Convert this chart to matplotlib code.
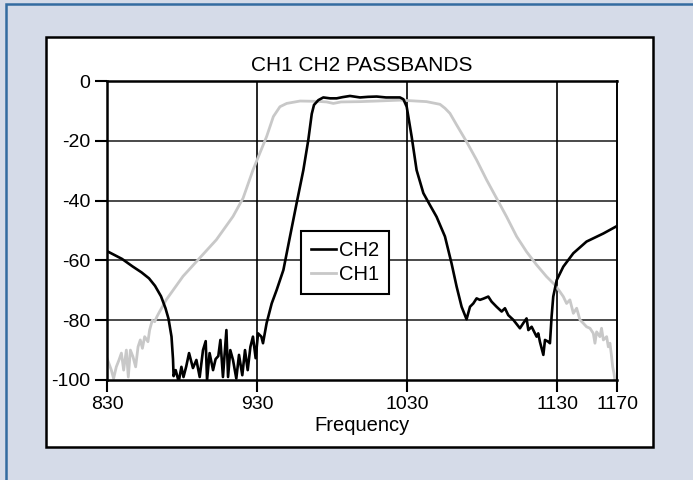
import matplotlib
matplotlib.use('Agg')
import matplotlib.pyplot as plt
from matplotlib.patches import Rectangle

plt.rcParams['font.family'] = ['Liberation Sans', 'DejaVu Sans']

# CH2 response (black)
ch2_freq = [830, 840, 847, 853, 858, 862, 866, 869, 871, 873, 874, 874.4,
            875.8, 877.8, 879.6, 881, 882.8, 884.7, 887.3, 889.6, 891.8, 894,
            895.8, 896.7, 898.4, 900.7, 902.4, 904.2, 905.6, 907.3, 909.6, 910.7,
            912.2, 914, 916.2, 918, 920.2, 922, 923.8, 925.6, 927.3, 929.1,
            930.7, 932.9, 934, 936.4, 939.8, 943.1, 947.6, 952, 956.4, 960.9,
            964.2, 966.5, 968, 970.9, 974.2, 978.7, 983.1, 987, 992, 998.7,
            1004, 1009.8, 1016, 1025.3, 1027.6, 1029.8, 1033.1, 1036.4, 1040.9,
            1045.3, 1049.7, 1055.3, 1059.7, 1063.1, 1066.4, 1069.7, 1072, 1074.2,
            1076.4, 1078.6, 1080.9, 1084.2, 1086.4, 1089.7, 1093.1, 1095.3,
            1097.5, 1100.9, 1105.3, 1107.5, 1109.7, 1110.9, 1113.1, 1116.4,
            1117.5, 1118.6, 1120.9, 1122, 1124.2, 1125.3, 1126.4, 1127.5, 1129.8,
            1134.2, 1140.9, 1149.7, 1160.9, 1170]
ch2_db = [-56.9, -59.5, -62, -64, -66, -68.5, -72, -76, -79.5, -85.5, -93, -98.7,
          -96.7, -100.6, -95.6, -99, -95.5, -91, -96, -93.3, -99, -90,
          -87, -100, -91, -96.7, -93, -92, -86.6, -99, -83.3, -99,
          -90, -93.3, -99.5, -91.6, -98.4, -90, -96.7, -88.9, -85.5, -92.7,
          -84.4, -85.5, -87.7, -81, -74.4, -69.9, -63.2, -52, -40.9, -29.8,
          -19.7, -11, -8, -6.4, -5.5, -5.8, -5.8, -5.4, -5.0, -5.5,
          -5.3, -5.2, -5.5, -5.5, -6.1, -8.6, -18.6, -29.8, -37.5,
          -41.5, -45.4, -52, -61, -68.8, -75.5, -79.7, -75.5, -74.4,
          -72.7, -73.2, -72.8, -72.1, -73.8, -75.5, -77.1, -76,
          -78.3, -79.9, -82.7, -81, -79.4, -83.3, -82.2, -85.5,
          -84.4, -87.2, -91.6, -86.6, -87.2, -87.7, -78.8, -72.1, -66.6,
          -62.1, -57.6, -53.7, -51, -48.5]

# CH1 response (grey)
ch1_freq = [830, 832.9, 834.4, 836.2, 838, 839.6, 841.1, 842.9, 844.2, 845.6,
            847.3, 849.1, 850.7, 852.2, 853.6, 855.1, 857.3, 858.4, 860.2, 861.8,
            863.3, 865.1, 869.6, 880.7, 891.8, 902.9, 914, 920.7, 927.3, 932,
            936.4, 940.9, 945.3, 949.8, 958.7, 970, 976.4, 980.9, 986, 998.7,
            1010, 1025.3, 1043, 1052, 1055.3, 1058.6, 1063.1, 1069.7, 1076.4,
            1083.1, 1089.7, 1096.4, 1103.1, 1109.7, 1116.4, 1123, 1128.6, 1132,
            1134.2, 1136.4, 1138.6, 1140.9, 1143.1, 1145.3, 1147.5, 1149.7, 1152,
            1154.2, 1155.3, 1156.4, 1158.6, 1159.7, 1160.9, 1163.1, 1164.2,
            1165.3, 1166.4, 1167.1, 1168, 1168.7]
ch1_db = [-92.7, -96.7, -99.5, -95.6, -93.3, -91, -96.7, -90, -99, -90,
          -92.2, -95.6, -88.9, -86.6, -89.4, -85.5, -87.2, -83.3, -80, -80.5,
          -78.8, -77.1, -73.1, -65.3, -59.2, -53.1, -45.3, -39.2, -29.8, -24,
          -18.6, -11.9, -8.6, -7.5, -6.7, -6.8, -7.0, -7.5, -7.0, -6.9,
          -6.7, -6.4, -6.9, -7.8, -9.1, -10.8, -14.7, -20.3, -26.4,
          -33.1, -39.2, -45.4, -52, -57.1, -61.5, -65.4, -68.2, -70.5,
          -72.1, -74.4, -73.2, -77.7, -76, -79.9, -81, -82.2, -82.7,
          -84.4, -87.7, -83.9, -85.5, -82.7, -86.6, -85.5, -88.9,
          -87.7, -92.2, -95.5, -97.8, -100.5]

xticks = [830, 930, 1030, 1130, 1170]
yticks = [0, -20, -40, -60, -80, -100]

W, H = 693, 480
fig = plt.figure(figsize=(W / 100, H / 100), dpi=100, facecolor='#d5dbe8')

# outer blue frame and white panel, drawn behind the axes
fig.patches.append(Rectangle((6 / W, -0.1), 1.2, 1.1 - 4 / H, transform=fig.transFigure,
                             facecolor='none', edgecolor='#336ba0', linewidth=1.8,
                             zorder=-10))
fig.patches.append(Rectangle((45.5 / W, 1 - 446.5 / H), 607 / W, 410 / H,
                             transform=fig.transFigure, facecolor='white',
                             edgecolor='black', linewidth=1.8, zorder=-9))

ax = fig.add_axes([107 / W, 1 - 380 / H, 510 / W, 299 / H])
ax.set_facecolor('white')

l1, = ax.plot(ch1_freq, ch1_db, color='#c8c8c8', linewidth=2.0, label='CH1')
l2, = ax.plot(ch2_freq, ch2_db, color='black', linewidth=1.9, label='CH2')

ax.set_xlim(830, 1170)
ax.set_ylim(-100, 0)
ax.set_xticks(xticks)
ax.set_yticks(yticks)
ax.set_xticklabels([str(v) for v in xticks])
ax.set_yticklabels([str(v) for v in yticks])
ax.tick_params(direction='out', length=8.5, width=1.5, labelsize=14)
ax.tick_params(axis='y', pad=3.5)
ax.tick_params(axis='x', pad=3)

for y in [-20, -40, -60, -80]:
    ax.axhline(y, color='#3c3c3c', linewidth=1.3, zorder=0.5)
for x in [930, 1030, 1130]:
    ax.axvline(x, color='black', linewidth=1.2, zorder=0.5)

for side in ['left', 'bottom', 'top', 'right']:
    ax.spines[side].set_linewidth(1.8)
    ax.spines[side].set_color('black')
ax.spines['right'].set_linewidth(1.4)

ax.set_title('CH1 CH2 PASSBANDS', fontsize=15, pad=7)
ax.set_xlabel('Frequency', fontsize=14.5, labelpad=2)

leg = ax.legend(handles=[l2, l1], loc='upper left', bbox_to_anchor=(0.380, 0.498),
                borderaxespad=0, fontsize=14.5, frameon=True, fancybox=False,
                handlelength=1.25, handletextpad=0.15, labelspacing=0.25,
                borderpad=0.5)
leg.get_frame().set_edgecolor('black')
leg.get_frame().set_linewidth(1.5)
leg.get_frame().set_alpha(1)

plt.savefig('out.png', dpi=100, facecolor=fig.get_facecolor())
